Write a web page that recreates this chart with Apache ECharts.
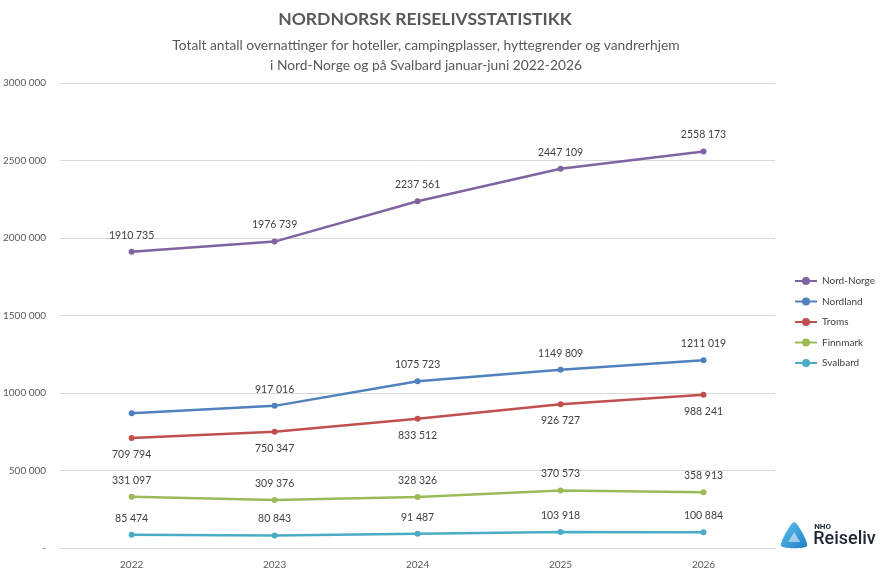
<!DOCTYPE html>
<html>
<head>
<meta charset="utf-8">
<script src="https://cdn.jsdelivr.net/npm/echarts@6/dist/echarts.min.js"></script>
<style>
  html, body { margin: 0; padding: 0; background: #fff; }
  #chart { width: 880px; height: 574px; }
</style>
</head>
<body>
<div id="chart"></div>
<script>
// data
var years = ['2022', '2023', '2024', '2025', '2026'];
var nordNorge = [1910735, 1976739, 2237561, 2447109, 2558173];
var nordland = [870000, 917016, 1075723, 1149809, 1211019];
var troms = [709794, 750347, 833512, 926727, 988241];
var finnmark = [331097, 309376, 328326, 370573, 358913];
var svalbard = [85474, 80843, 91487, 103918, 100884];
var yTicks = [0, 500000, 1000000, 1500000, 2000000, 2500000, 3000000];

var fontName = 'Lato, "Open Sans", sans-serif';

// excel style: only the last three digits split off, "1910 735"
function fmt(v) {
    var s = String(v);
    if (s.length <= 3) return s;
    return s.slice(0, -3) + ' ' + s.slice(-3);
}

function makeSeries(name, values, color, pos, hideFirst) {
    return {
        name: name,
        type: 'line',
        data: values.map(function(v, i) {
            var item = { value: v };
            if (hideFirst && i === 0) item.label = { show: false };
            return item;
        }),
        symbol: 'circle',
        symbolSize: 6,
        lineStyle: { width: 2.5, color: color },
        itemStyle: { color: color },
        label: {
            show: true,
            position: pos,
            distance: 8,
            fontSize: 10.5,
            fontFamily: fontName,
            color: '#404040',
            formatter: function(p) { return fmt(p.value); }
        },
        emphasis: { disabled: true }
    };
}

var myChart = echarts.init(document.getElementById('chart'));
var option = {
    animation: false,
    textStyle: { fontFamily: fontName },
    title: [{
        text: 'NORDNORSK REISELIVSSTATISTIKK',
        left: 420,
        top: 5,
        textAlign: 'center',
        textStyle: { fontSize: 17.5, fontWeight: 'bold', color: '#595959', fontFamily: fontName }
    }, {
        text: 'Totalt antall overnattinger for hoteller, campingplasser, hyttegrender og vandrerhjem\ni Nord-Norge og på Svalbard januar-juni 2022-2026',
        left: 421,
        top: 31,
        textAlign: 'center',
        textStyle: { fontSize: 13.8, fontWeight: 'normal', color: '#595959', lineHeight: 20, fontFamily: fontName }
    }],
    legend: {
        orient: 'vertical',
        left: 789,
        top: 271,
        itemWidth: 22,
        itemHeight: 10,
        itemGap: 10.5,
        textStyle: { fontSize: 10, color: '#404040', fontFamily: fontName },
        data: ['Nord-Norge', 'Nordland', 'Troms', 'Finnmark', 'Svalbard']
    },
    grid: { left: 58, right: 105, top: 83, bottom: 26, containLabel: false },
    xAxis: {
        type: 'category',
        data: years,
        boundaryGap: true,
        axisLine: { show: true, lineStyle: { color: '#d9d9d9' } },
        axisTick: { show: false },
        axisLabel: { fontSize: 10, color: '#595959', margin: 12 }
    },
    yAxis: {
        type: 'value',
        min: yTicks[0],
        max: yTicks[yTicks.length - 1],
        interval: yTicks[1] - yTicks[0],
        axisLine: { show: false },
        axisTick: { show: false },
        splitLine: { lineStyle: { color: '#d9d9d9' } },
        axisLabel: {
            fontSize: 10,
            color: '#595959',
            margin: 14,
            formatter: function(v) { return v === 0 ? '-' : fmt(v); }
        }
    },
    graphic: [{
        // NHO Reiseliv logo
        type: 'group',
        left: 781,
        top: 522,
        children: [{
            type: 'polygon',
            shape: { points: [[13, 0], [26, 24], [0, 24]], smooth: 0.25 },
            style: {
                fill: {
                    type: 'linear', x: 0, y: 0, x2: 1, y2: 1,
                    colorStops: [
                        { offset: 0, color: '#5fc3ee' },
                        { offset: 1, color: '#1f7fc4' }
                    ]
                }
            }
        }, {
            type: 'polygon',
            shape: { points: [[13, 10], [19, 20], [7, 20]] },
            style: { fill: '#ffffff', opacity: 0.5 }
        }, {
            type: 'text',
            x: 33,
            y: 1,
            style: { text: 'NHO', fontSize: 8, fontWeight: 'bold', fill: '#1d2733', fontFamily: 'Roboto, sans-serif' }
        }, {
            type: 'text',
            x: 32,
            y: 8,
            style: { text: 'Reiseliv', fontSize: 18, fontWeight: 500, fill: '#1d2733', fontFamily: 'Roboto, sans-serif' }
        }]
    }],
    series: [
        makeSeries('Nord-Norge', nordNorge, '#8064A2', 'top', false),
        makeSeries('Nordland', nordland, '#4F81BD', 'top', true),
        makeSeries('Troms', troms, '#C0504D', 'bottom', false),
        makeSeries('Finnmark', finnmark, '#9BBB59', 'top', false),
        makeSeries('Svalbard', svalbard, '#4BACC6', 'top', false)
    ]
};
myChart.setOption(option, true);
</script>
</body>
</html>
